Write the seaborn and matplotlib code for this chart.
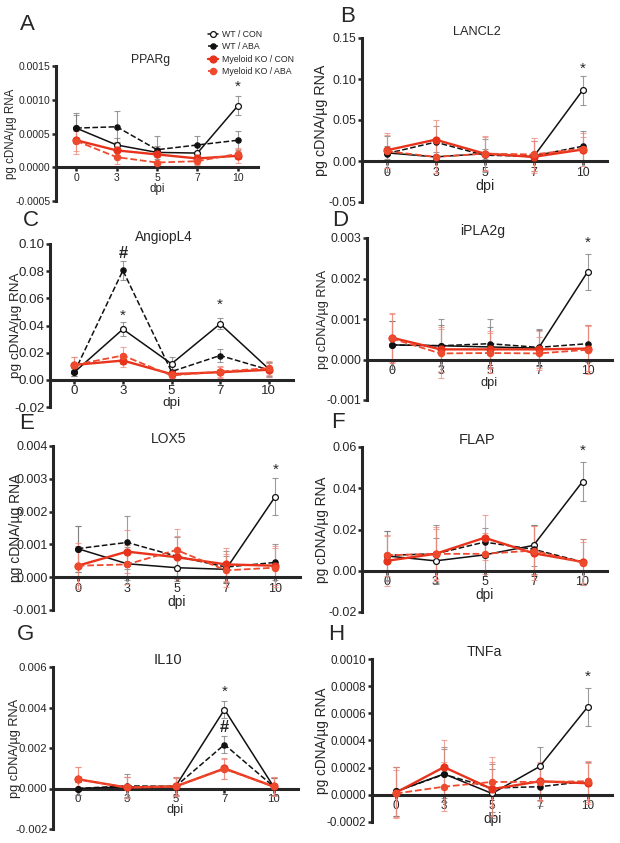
import numpy as np
import pandas as pd
import matplotlib
matplotlib.use("Agg")
import matplotlib.pyplot as plt
import matplotlib.transforms as mtransforms
from matplotlib.ticker import FormatStrFormatter
import seaborn as sns

# DATA (series order = SERIES)
DPI_LABELS = ["0", "3", "5", "7", "10"]
SERIES = ["WT / CON", "WT / ABA", "Myeloid KO / CON", "Myeloid KO / ABA"]

PPARG_MEAN = [[0.00058, 0.00033, 0.00022, 0.00021, 0.00091],
              [0.00058, 0.00060, 0.00026, 0.00033, 0.00040],
              [0.00040, 0.00025, 0.00019, 0.00013, 0.00017],
              [0.00039, 0.00015, 0.00007, 0.00009, 0.00020]]
PPARG_ERR = [[0.00022, 0.00010, 0.00010, 0.00010, 0.00014],
             [0.00020, 0.00023, 0.00020, 0.00014, 0.00014],
             [0.00020, 0.00012, 0.00010, 0.00008, 0.00010],
             [0.00015, 0.00010, 0.00008, 0.00006, 0.00008]]
PPARG_TICKS = [-0.0005, 0.0, 0.0005, 0.0010, 0.0015]
PPARG_MARKS = [("10", 0.00119, "*")]

LANCL2_MEAN = [[0.010, 0.005, 0.009, 0.005, 0.086],
               [0.009, 0.023, 0.007, 0.006, 0.018],
               [0.013, 0.026, 0.009, 0.005, 0.014],
               [0.012, 0.005, 0.009, 0.008, 0.015]]
LANCL2_ERR = [[0.008, 0.006, 0.006, 0.006, 0.018],
              [0.022, 0.020, 0.020, 0.018, 0.018],
              [0.021, 0.024, 0.021, 0.020, 0.020],
              [0.020, 0.020, 0.020, 0.020, 0.014]]
LANCL2_TICKS = [-0.05, 0.0, 0.05, 0.10, 0.15]
LANCL2_MARKS = [("10", 0.113, "*")]

ANGIOPL4_MEAN = [[0.0056, 0.0373, 0.0118, 0.0412, 0.0081],
                 [0.0056, 0.0805, 0.0061, 0.0179, 0.0074],
                 [0.0110, 0.0142, 0.0042, 0.0056, 0.0074],
                 [0.0110, 0.0179, 0.0032, 0.0061, 0.0086]]
ANGIOPL4_ERR = [[0.003, 0.005, 0.005, 0.004, 0.005],
                [0.003, 0.007, 0.004, 0.005, 0.005],
                [0.006, 0.005, 0.003, 0.004, 0.005],
                [0.006, 0.006, 0.003, 0.004, 0.005]]
ANGIOPL4_TICKS = [-0.02, 0.0, 0.02, 0.04, 0.06, 0.08, 0.10]
ANGIOPL4_MARKS = [("3", 0.093, "#"), ("3", 0.047, "*"), ("7", 0.055, "*")]

IPLA2G_MEAN = [[0.00036, 0.00034, 0.00031, 0.00028, 0.00216],
               [0.00036, 0.00034, 0.00039, 0.00030, 0.00039],
               [0.00054, 0.00025, 0.00025, 0.00025, 0.00027],
               [0.00052, 0.00015, 0.00016, 0.00015, 0.00024]]
IPLA2G_ERR = [[0.00060, 0.00050, 0.00050, 0.00045, 0.00044],
              [0.00060, 0.00065, 0.00060, 0.00045, 0.00045],
              [0.00060, 0.00055, 0.00045, 0.00045, 0.00055],
              [0.00060, 0.00060, 0.00050, 0.00040, 0.00060]]
IPLA2G_TICKS = [-0.001, 0.0, 0.001, 0.002, 0.003]
IPLA2G_MARKS = [("10", 0.00288, "*")]

LOX5_MEAN = [[0.00087, 0.00041, 0.00029, 0.00024, 0.00246],
             [0.00087, 0.00106, 0.00064, 0.00031, 0.00045],
             [0.00035, 0.00078, 0.00061, 0.00039, 0.00035],
             [0.00035, 0.00039, 0.00083, 0.00021, 0.00029]]
LOX5_ERR = [[0.00070, 0.00050, 0.00040, 0.00040, 0.00055],
            [0.00070, 0.00082, 0.00060, 0.00050, 0.00055],
            [0.00070, 0.00065, 0.00065, 0.00050, 0.00060],
            [0.00060, 0.00060, 0.00065, 0.00050, 0.00060]]
LOX5_TICKS = [-0.001, 0.0, 0.001, 0.002, 0.003, 0.004]
LOX5_MARKS = [("10", 0.00326, "*")]

FLAP_MEAN = [[0.0072, 0.0048, 0.0077, 0.0123, 0.0432],
             [0.0075, 0.0082, 0.0139, 0.0104, 0.0043],
             [0.0048, 0.0082, 0.0160, 0.0085, 0.0043],
             [0.0075, 0.0082, 0.0082, 0.0098, 0.0040]]
FLAP_ERR = [[0.012, 0.011, 0.008, 0.010, 0.0093],
            [0.012, 0.014, 0.007, 0.012, 0.011],
            [0.012, 0.013, 0.011, 0.013, 0.011],
            [0.010, 0.012, 0.010, 0.012, 0.010]]
FLAP_TICKS = [-0.02, 0.0, 0.02, 0.04, 0.06]
FLAP_MARKS = [("10", 0.0584, "*")]

IL10_MEAN = [[0.0, 0.00008, 0.00010, 0.00390, 0.00010],
             [0.0, 0.00013, 0.00010, 0.00217, 0.00010],
             [0.00046, 0.00005, 0.00010, 0.00099, 0.00010],
             [0.00046, 0.00005, 0.00010, 0.00096, 0.00010]]
IL10_ERR = [[0.00030, 0.00050, 0.00040, 0.00040, 0.00040],
            [0.00030, 0.00060, 0.00045, 0.00040, 0.00040],
            [0.00058, 0.00050, 0.00045, 0.00050, 0.00045],
            [0.00058, 0.00050, 0.00040, 0.00050, 0.00045]]
IL10_TICKS = [-0.002, 0.0, 0.002, 0.004, 0.006]
IL10_MARKS = [("7", 0.0048, "*"), ("7", 0.0030, "#")]

TNFA_MEAN = [[0.000025, 0.000154, 0.000010, 0.000210, 0.000650],
             [0.000025, 0.000150, 0.000050, 0.000060, 0.000100],
             [0.000017, 0.000204, 0.000042, 0.000100, 0.000085],
             [0.000010, 0.000060, 0.000095, 0.000095, 0.000100]]
TNFA_ERR = [[0.00018, 0.00018, 0.00018, 0.00014, 0.00014],
            [0.00018, 0.00020, 0.00018, 0.00014, 0.00014],
            [0.00019, 0.00020, 0.00020, 0.00014, 0.00015],
            [0.00017, 0.00018, 0.00018, 0.00014, 0.00015]]
TNFA_TICKS = [-0.0002, 0.0, 0.0002, 0.0004, 0.0006, 0.0008, 0.0010]
TNFA_MARKS = [("10", 0.00087, "*")]

# STYLE
COLORS = ["#111111", "#111111", "#e8331c", "#ee4a2e"]
FACES = ["white", "#111111", "#e8331c", "#ee4a2e"]
LINESTYLES = ["-", "--", "-", "--"]
LINEWIDTHS = [1.1, 1.1, 1.7, 1.3]
MSIZES = [4.2, 3.8, 5.0, 4.5]
ERR_COLORS = ["#7a7a7a", "#7a7a7a", "#ee8a7c", "#ee8a7c"]

# letter, gene, mean, err, ticks, fmt, marks
PANELS = [
    ("A", "PPARg", PPARG_MEAN, PPARG_ERR, PPARG_TICKS, "%.4f", PPARG_MARKS),
    ("B", "LANCL2", LANCL2_MEAN, LANCL2_ERR, LANCL2_TICKS, "%.2f", LANCL2_MARKS),
    ("C", "AngiopL4", ANGIOPL4_MEAN, ANGIOPL4_ERR, ANGIOPL4_TICKS, "%.2f", ANGIOPL4_MARKS),
    ("D", "iPLA2g", IPLA2G_MEAN, IPLA2G_ERR, IPLA2G_TICKS, "%.3f", IPLA2G_MARKS),
    ("E", "LOX5", LOX5_MEAN, LOX5_ERR, LOX5_TICKS, "%.3f", LOX5_MARKS),
    ("F", "FLAP", FLAP_MEAN, FLAP_ERR, FLAP_TICKS, "%.2f", FLAP_MARKS),
    ("G", "IL10", IL10_MEAN, IL10_ERR, IL10_TICKS, "%.3f", IL10_MARKS),
    ("H", "TNFa", TNFA_MEAN, TNFA_ERR, TNFA_TICKS, "%.4f", TNFA_MARKS),
]

# LAYOUT in pixels: axes box (left, top, right, bottom), letter (x, y), ylabel centre x
W, H = 620, 843
BOXES = {"A": (56, 66, 258, 201), "B": (362, 38, 607, 202),
         "C": (50, 244, 293, 407), "D": (367, 238, 612, 400),
         "E": (53, 446, 300, 610), "F": (362, 447, 607, 612),
         "G": (53, 667, 298, 829), "H": (372, 659, 612, 822)}
LETTERS = {"A": (27, 25), "B": (348, 17), "C": (31, 220), "D": (340, 220),
           "E": (27, 423), "F": (338, 422), "G": (25, 635), "H": (336, 635)}
YLAB_X = {"A": 11, "B": 320, "C": 15, "D": 322, "E": 15, "F": 322, "G": 14, "H": 322}
# font sizes per panel: ticks, axis labels, title (panels were scaled differently)
FONTS = {"A": (7.5, 8.3, 8.8), "B": (8.8, 10.3, 9.2),
         "C": (9.6, 9.7, 9.8), "D": (8.8, 9.2, 10.0),
         "E": (9.0, 10.0, 10.0), "F": (9.0, 9.8, 10.5),
         "G": (8.2, 9.2, 10.5), "H": (8.4, 9.8, 10.2)}

sns.set_style("ticks")
plt.rcParams["font.family"] = ["Liberation Sans", "DejaVu Sans"]

fig = plt.figure(figsize=(W / 100, H / 100), dpi=100)


def draw_panel(ax, mean, err, ticks, fmt, marks, gene, fonts):
    tick_fs, lab_fs, title_fs = fonts
    for i, name in enumerate(SERIES):
        ax.errorbar(DPI_LABELS, mean[i], yerr=err[i], fmt="none",
                    ecolor=ERR_COLORS[i], elinewidth=0.8, capsize=2.5,
                    capthick=0.8, alpha=0.75, zorder=2)
        df = pd.DataFrame({"dpi": DPI_LABELS, "value": mean[i]})
        sns.lineplot(data=df, x="dpi", y="value", ax=ax, sort=False,
                     color=COLORS[i], linestyle=LINESTYLES[i],
                     linewidth=LINEWIDTHS[i], marker="o",
                     markersize=MSIZES[i], markerfacecolor=FACES[i],
                     markeredgecolor=COLORS[i], markeredgewidth=0.9,
                     label=name, legend=False, zorder=3 + i)
    for d, y, sym in marks:
        ax.text(DPI_LABELS.index(d), y, sym, ha="center", va="center",
                fontsize=11 if sym == "*" else 12,
                fontweight="bold" if sym == "#" else "normal")

    ax.set_xlim(-0.5, 4.5)
    ax.set_ylim(ticks[0], ticks[-1])
    ax.set_yticks(ticks)
    ax.yaxis.set_major_formatter(FormatStrFormatter(fmt))
    sns.despine(ax=ax)
    ax.spines["bottom"].set_position(("data", 0))
    for s in ("left", "bottom"):
        ax.spines[s].set_linewidth(2.2)
    ax.tick_params(axis="both", width=1.8, length=3, labelsize=tick_fs, pad=1)
    ax.set_xlabel("dpi", fontsize=lab_fs, labelpad=0)
    ax.set_ylabel("pg cDNA/µg RNA", fontsize=lab_fs)
    ax.set_title(gene, fontsize=title_fs, pad=0, x=0.47)


axes = {}
for letter, gene, mean, err, ticks, fmt, marks in PANELS:
    l, t, r, b = BOXES[letter]
    ax = fig.add_axes([l / W, 1 - b / H, (r - l) / W, (b - t) / H])
    draw_panel(ax, mean, err, ticks, fmt, marks, gene, FONTS[letter])
    trans = mtransforms.blended_transform_factory(fig.transFigure, ax.transAxes)
    half = FONTS[letter][1] * 100 / 72 * 0.55
    ax.yaxis.set_label_coords((YLAB_X[letter] + half) / W, 0.5, transform=trans)
    lx, ly = LETTERS[letter]
    fig.text(lx / W, 1 - ly / H, letter, ha="center", va="center", fontsize=16)
    axes[letter] = ax

handles, labels = axes["A"].get_legend_handles_labels()
fig.legend(handles, labels, loc="upper left", bbox_to_anchor=(208 / W, 1 - 30 / H),
           frameon=False, fontsize=6.3, handlelength=1.1, handletextpad=0.5,
           labelspacing=0.38, borderpad=0, borderaxespad=0)

fig.savefig("out.png", dpi=100)
